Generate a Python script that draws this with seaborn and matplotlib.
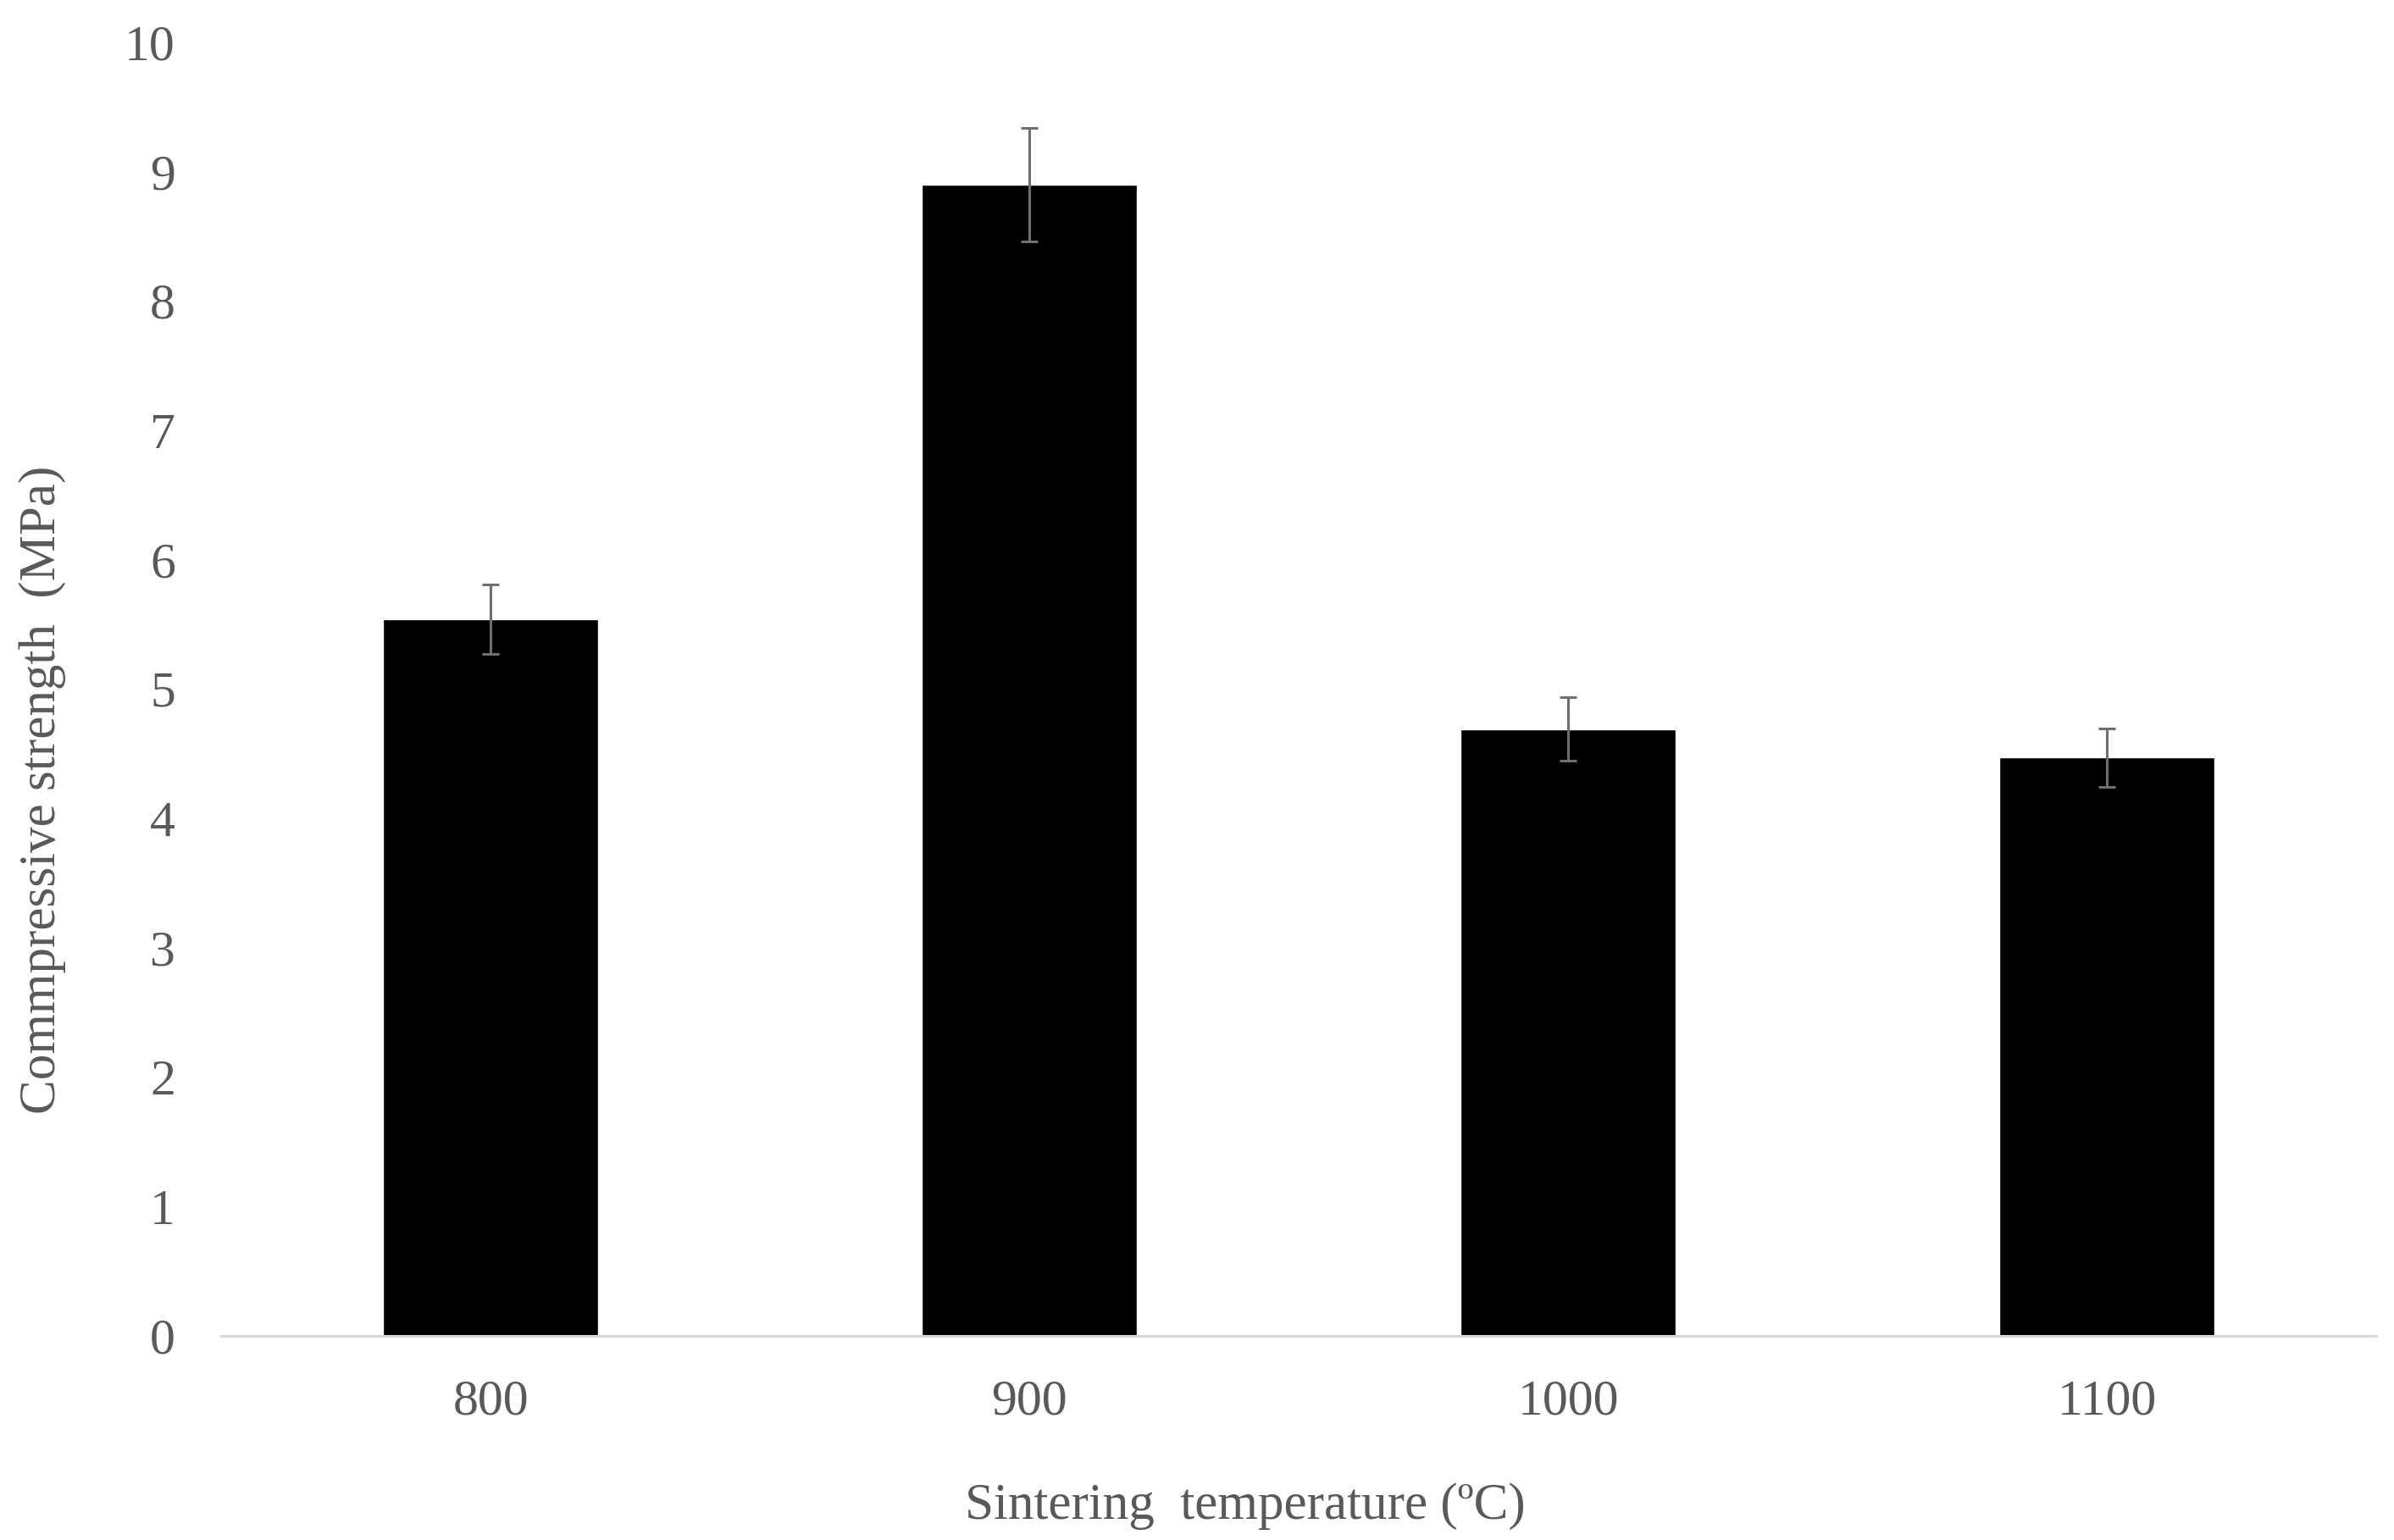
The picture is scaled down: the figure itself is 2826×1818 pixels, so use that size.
import pandas as pd
import matplotlib
matplotlib.use('Agg')
import matplotlib.pyplot as plt
import seaborn as sns

# %% data
temperatures = ['800', '900', '1000', '1100']
strength_mpa = [5.54, 8.90, 4.69, 4.47]
strength_err = [0.27, 0.44, 0.245, 0.225]
y_ticks = [0, 1, 2, 3, 4, 5, 6, 7, 8, 9, 10]

# %% plot
sns.set_theme(style="white")
plt.rcParams['font.family'] = ['Liberation Serif', 'DejaVu Serif']
text_grey = '#595959'

df = pd.DataFrame({'Temperature': temperatures, 'Strength': strength_mpa})

fig = plt.figure(figsize=(28.26, 18.18), dpi=100)
ax = fig.add_axes([0.0924, 0.1326, 0.9002, 0.8399])

sns.barplot(data=df, x='Temperature', y='Strength', color='black', width=0.4,
            errorbar=None, saturation=1, ax=ax)
ax.errorbar(range(len(temperatures)), strength_mpa, yerr=strength_err, fmt='none',
            ecolor='#6f6f6f', elinewidth=2.2, capsize=7.5, capthick=2.2)

ax.set_xlim(-0.5, len(temperatures) - 0.5)
ax.set_ylim(0, 10)
ax.set_yticks(y_ticks)

for s in ['top', 'right', 'left']:
    ax.spines[s].set_visible(False)
ax.spines['bottom'].set_color('#d9d9d9')
ax.spines['bottom'].set_linewidth(2.2)

ax.tick_params(axis='both', length=0, labelsize=43, colors=text_grey)
ax.tick_params(axis='y', pad=39)
ax.tick_params(axis='x', pad=37)

ax.set_xlabel('Sintering  temperature (\u00baC)', fontsize=44, color=text_grey, va='center')
ax.set_ylabel('Commpressive strength  (MPa)', fontsize=44, color=text_grey, va='center')
ax.xaxis.set_label_coords(0.475, -0.132)
ax.yaxis.set_label_coords(-0.083, 0.422)

fig.savefig('out.png', dpi=100, facecolor='white')
